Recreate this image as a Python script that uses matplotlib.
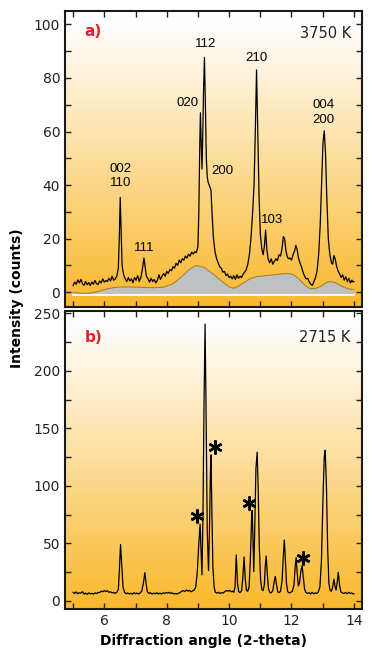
import numpy as np
import matplotlib
matplotlib.use("Agg")
import matplotlib.pyplot as plt
from matplotlib.ticker import MultipleLocator

# panel a) 3750 K, diffraction pattern
a_x = [5.00, 5.05, 5.10, 5.15, 5.20, 5.25, 5.30, 5.35, 5.40, 5.45, 5.50, 5.55, 5.60, 5.65,
       5.70, 5.75, 5.80, 5.85, 5.90, 5.95, 6.00, 6.05, 6.10, 6.15, 6.20, 6.25, 6.30, 6.35,
       6.40, 6.45, 6.48, 6.51, 6.54, 6.57, 6.62, 6.67, 6.72, 6.77, 6.82, 6.87, 6.92, 6.97,
       7.02, 7.07, 7.12, 7.17, 7.22, 7.27, 7.31, 7.35, 7.40, 7.45, 7.50, 7.55, 7.60, 7.65,
       7.70, 7.75, 7.80, 7.85, 7.90, 7.95, 8.00, 8.05, 8.10, 8.15, 8.20, 8.25, 8.30, 8.35,
       8.40, 8.45, 8.50, 8.55, 8.60, 8.65, 8.70, 8.75, 8.80, 8.85, 8.90, 8.95, 9.00, 9.03,
       9.06, 9.08, 9.10, 9.13, 9.15, 9.18, 9.21, 9.24, 9.27, 9.30, 9.33, 9.38, 9.42, 9.46,
       9.50, 9.55, 9.60, 9.65, 9.70, 9.75, 9.80, 9.85, 9.90, 9.95, 10.00, 10.05, 10.10,
       10.15, 10.20, 10.25, 10.30, 10.35, 10.40, 10.45, 10.50, 10.55, 10.60, 10.65, 10.70,
       10.75, 10.80, 10.84, 10.88, 10.92, 10.96, 11.00, 11.05, 11.09, 11.13, 11.17, 11.21,
       11.25, 11.30, 11.35, 11.40, 11.45, 11.50, 11.55, 11.60, 11.65, 11.70, 11.74, 11.78,
       11.82, 11.86, 11.90, 11.95, 12.00, 12.05, 12.10, 12.14, 12.18, 12.22, 12.27, 12.32,
       12.37, 12.42, 12.47, 12.52, 12.57, 12.62, 12.67, 12.72, 12.77, 12.82, 12.87, 12.92,
       12.97, 13.01, 13.05, 13.09, 13.13, 13.18, 13.23, 13.28, 13.32, 13.36, 13.40, 13.44,
       13.49, 13.54, 13.59, 13.64, 13.69, 13.74, 13.79, 13.84, 13.89, 13.94, 13.97, 14.00]
a_y = [2.5, 3.8, 3.0, 4.6, 3.5, 4.8, 3.2, 2.6, 4.0, 2.8, 3.6, 2.5, 3.8, 3.0,
       4.4, 3.2, 2.9, 4.2, 3.5, 5.0, 3.8, 4.4, 4.0, 5.2, 4.2, 6.0, 4.5, 5.0,
       6.0, 9.0, 20.0, 35.4, 22.0, 10.0, 6.5, 5.0, 4.0, 5.5, 4.2, 5.0, 3.6, 5.5,
       4.5, 6.2, 4.0, 5.5, 8.5, 12.8, 9.5, 6.0, 5.0, 3.8, 5.2, 4.0, 4.8, 3.5,
       4.4, 6.5, 4.8, 6.0, 7.0, 6.0, 7.8, 7.0, 8.5, 8.0, 9.5, 9.0, 10.8, 10.0,
       12.0, 11.0, 12.5, 12.0, 13.5, 12.8, 14.2, 13.5, 15.0, 14.3, 15.2, 14.8, 17.0, 30.0,
       55.0, 67.0, 58.0, 46.0, 55.0, 75.0, 87.7, 70.0, 50.0, 43.0, 41.0, 39.5, 38.0, 28.0,
       20.0, 15.0, 12.5, 11.0, 9.5, 9.0, 7.5, 7.8, 6.2, 6.8, 5.5, 6.0, 5.0,
       6.2, 4.8, 6.5, 5.2, 6.0, 5.5, 6.8, 7.5, 8.5, 10.5, 14.0, 20.0,
       29.0, 40.0, 60.0, 83.0, 60.0, 36.0, 22.0, 16.0, 14.0, 17.0, 23.2, 16.0,
       12.5, 11.0, 12.5, 10.5, 11.5, 12.5, 11.8, 14.0, 13.5, 16.5, 20.8, 20.0,
       15.5, 13.5, 12.5, 12.8, 12.0, 14.0, 15.5, 17.5, 16.0, 13.0, 11.0, 9.5,
       7.5, 6.0, 5.0, 5.2, 3.8, 3.0, 2.6, 4.0, 5.5, 8.0, 14.0, 25.0,
       42.0, 56.0, 60.3, 52.0, 36.0, 20.0, 14.0, 11.0, 10.5, 13.7, 12.5, 10.0,
       8.0, 7.0, 5.5, 6.5, 4.5, 5.8, 4.0, 5.2, 3.5, 4.5, 3.8, 4.0]

# panel a) grey background hump
bg_x = [5.0, 5.2, 5.5, 5.8, 6.1, 6.4, 6.8, 7.2, 7.6, 7.9, 8.2, 8.5, 8.7, 8.9, 9.0, 9.2,
        9.4, 9.6, 9.8, 10.0, 10.15, 10.3, 10.5, 10.7, 10.9, 11.2, 11.5, 11.7, 11.95, 12.1,
        12.25, 12.45, 12.6, 12.75, 12.9, 13.1, 13.25, 13.4, 13.6, 13.8, 14.0]
bg_y = [0.0, -0.3, -0.4, 0.3, 1.3, 1.9, 2.0, 1.8, 1.7, 1.9, 3.2, 6.0, 8.3, 9.8, 9.9, 9.3,
        7.6, 5.8, 3.8, 2.0, 1.5, 2.3, 3.8, 5.2, 5.9, 6.2, 6.6, 6.9, 7.0, 6.3,
        4.8, 2.4, 1.3, 1.4, 2.0, 3.5, 4.0, 3.6, 2.3, 1.3, 1.0]
bg_base = -1.0

# panel b) 2715 K
b_x = [5.00, 5.05, 5.10, 5.15, 5.20, 5.25, 5.30, 5.35, 5.40, 5.45, 5.50, 5.55, 5.60, 5.65,
       5.70, 5.75, 5.80, 5.85, 5.90, 5.95, 6.00, 6.05, 6.10, 6.15, 6.20, 6.25, 6.30, 6.35,
       6.40, 6.45, 6.48, 6.52, 6.56, 6.60, 6.65, 6.70, 6.75, 6.80, 6.85, 6.90, 6.95, 7.00,
       7.05, 7.10, 7.15, 7.20, 7.25, 7.30, 7.34, 7.38, 7.43, 7.48, 7.53, 7.58, 7.63, 7.68,
       7.73, 7.78, 7.83, 7.88, 7.93, 7.98, 8.03, 8.08, 8.13, 8.18, 8.23, 8.28, 8.33, 8.38,
       8.43, 8.48, 8.53, 8.58, 8.63, 8.68, 8.73, 8.78, 8.83, 8.88, 8.93, 8.98, 9.03, 9.07,
       9.10, 9.13, 9.16, 9.20, 9.23, 9.26, 9.30, 9.34, 9.37, 9.40, 9.42, 9.45, 9.48, 9.52,
       9.56, 9.61, 9.66, 9.71, 9.76, 9.81, 9.86, 9.91, 9.96, 10.01, 10.06, 10.11, 10.15,
       10.19, 10.23, 10.27, 10.31, 10.35, 10.40, 10.44, 10.48, 10.52, 10.56, 10.60, 10.64,
       10.68, 10.72, 10.74, 10.77, 10.79, 10.82, 10.86, 10.90, 10.93, 10.97, 11.01, 11.05,
       11.09, 11.13, 11.16, 11.19, 11.22, 11.26, 11.30, 11.35, 11.40, 11.44, 11.48, 11.52,
       11.56, 11.60, 11.65, 11.70, 11.74, 11.77, 11.80, 11.84, 11.88, 11.93, 11.98, 12.03,
       12.08, 12.12, 12.15, 12.18, 12.22, 12.26, 12.30, 12.34, 12.38, 12.42, 12.46, 12.51,
       12.56, 12.61, 12.66, 12.71, 12.76, 12.81, 12.86, 12.91, 12.96, 13.01, 13.05, 13.08,
       13.12, 13.16, 13.20, 13.24, 13.28, 13.32, 13.36, 13.40, 13.43, 13.46, 13.50, 13.54,
       13.58, 13.63, 13.68, 13.73, 13.78, 13.83, 13.88, 13.93, 13.98, 14.00]
b_y = [7.5, 6.5, 7.8, 6.2, 7.2, 6.8, 8.0, 6.0, 6.8, 5.8, 7.0, 6.2, 6.6, 5.9,
       7.0, 6.4, 7.4, 7.2, 8.5, 8.0, 9.0, 8.2, 8.8, 7.5, 8.0, 7.0, 7.4, 6.6,
       7.5, 10.0, 25.0, 49.0, 30.0, 12.0, 7.5, 6.2, 7.0, 6.0, 6.8, 5.8, 7.2, 6.2,
       6.8, 6.0, 7.0, 8.5, 15.0, 24.6, 15.0, 8.0, 6.5, 7.2, 6.0, 6.8, 6.2, 7.2,
       6.0, 6.8, 6.0, 7.0, 6.5, 7.4, 6.8, 7.5, 6.5, 7.0, 6.0, 6.5, 6.0, 6.8,
       7.2, 8.5, 9.0, 8.2, 9.5, 8.5, 9.2, 8.0, 8.8, 9.5, 12.0, 25.0, 50.0, 66.7,
       45.0, 22.6, 70.0, 180.0, 240.6, 170.0, 60.0, 26.4, 60.0, 110.0, 127.0, 75.0, 30.0, 12.0,
       7.5, 6.8, 7.5, 6.5, 7.2, 6.8, 8.2, 9.0, 8.5, 9.2, 8.0, 8.5, 7.5,
       12.0, 40.0, 15.0, 8.0, 7.2, 9.0, 20.0, 38.3, 18.0, 9.0, 8.5, 12.0,
       35.0, 70.0, 78.6, 50.0, 25.5, 60.0, 115.0, 129.3, 100.0, 45.0, 18.0, 10.0,
       9.0, 14.0, 30.0, 39.1, 25.0, 11.0, 7.5, 7.0, 9.0, 16.0, 21.2, 14.0,
       8.0, 7.2, 8.5, 18.0, 40.0, 53.0, 38.0, 15.0, 8.0, 7.0, 7.5, 8.5,
       14.0, 30.0, 37.7, 25.0, 13.0, 16.0, 26.0, 30.7, 20.0, 10.0, 7.5, 6.5,
       7.2, 6.0, 7.5, 6.2, 7.0, 6.5, 8.0, 12.0, 35.0, 90.0, 125.0, 131.0,
       100.0, 45.0, 15.0, 9.0, 8.5, 12.0, 18.9, 12.0, 9.5, 15.0, 25.0, 14.0,
       8.0, 7.0, 6.5, 7.4, 6.2, 7.5, 6.5, 7.0, 6.0, 6.2]

# peak labels for panel a)
a_labels = ["002\n110", "111", "020", "112", "200", "210", "103", "004\n200"]
a_label_x = [6.53, 7.27, 8.67, 9.24, 9.79, 10.88, 11.39, 13.02]
a_label_y = [43.4, 16.4, 70.8, 92.6, 45.3, 87.3, 27.0, 67.1]

# asterisks in panel b)
star_x = [8.96, 9.55, 10.65, 12.38]
star_y = [74.0, 134.0, 85.0, 37.7]

W, H = 373, 663
fig = plt.figure(figsize=(W / 100, H / 100), dpi=100)

ax_a = fig.add_axes([65 / W, 1 - 307 / H, 297 / W, 296 / H])
ax_b = fig.add_axes([65 / W, 1 - 609 / H, 297 / W, 298 / H])

# white-to-orange background gradient
orange = np.array([0.98, 0.72, 0.17])
white = np.array([1.0, 1.0, 1.0])
t = np.linspace(0, 1, 256)
t = np.clip((t - 0.03) / 0.97, 0, 1) ** 1.05
grad = white[None, :] * (1 - t[:, None]) + orange[None, :] * t[:, None]
grad = grad[:, None, :]

for ax, ylim in [(ax_a, (-5.5, 105)), (ax_b, (-7, 252))]:
    ax.set_xlim(4.74, 14.26)
    ax.set_ylim(*ylim)
    ax.imshow(grad, extent=[4.74, 14.26, ylim[0], ylim[1]], aspect="auto",
              origin="upper", zorder=0)
    ax.xaxis.set_major_locator(MultipleLocator(2))
    ax.xaxis.set_minor_locator(MultipleLocator(1))
    ax.tick_params(which="both", direction="in", top=True, right=True,
                   width=1.0, length=4.5, colors="#222222", labelsize=10)
    for s in ax.spines.values():
        s.set_linewidth(1.5)
        s.set_color("#1a1a1a")

ax_a.yaxis.set_major_locator(MultipleLocator(20))
ax_a.yaxis.set_minor_locator(MultipleLocator(10))
ax_b.yaxis.set_major_locator(MultipleLocator(50))
ax_b.yaxis.set_minor_locator(MultipleLocator(25))
ax_a.tick_params(labelbottom=False)

# panel a
ax_a.fill_between(bg_x, bg_y, bg_base, color="#c0c1c3", lw=0, zorder=1)
ax_a.plot(bg_x, bg_y, color="#9c7b3c", lw=0.7, zorder=2)
ax_a.plot([bg_x[0], bg_x[-1]], [bg_base, bg_base], color="white", lw=1.3, zorder=2)
ax_a.plot(a_x, a_y, color="black", lw=0.9, zorder=3)
for lab, lx, ly in zip(a_labels, a_label_x, a_label_y):
    ax_a.text(lx, ly, lab, ha="center", va="center", fontsize=9.5,
              family="Liberation Sans", linespacing=1.25, zorder=4)
ax_a.text(5.37, 97.5, "a)", color="#e3202b", fontsize=11, fontweight="bold",
          va="center", ha="left")
ax_a.text(13.9, 96.6, "3750 K", fontsize=10.5, va="center", ha="right", color="#222222")

# panel b
ax_b.plot(b_x, b_y, color="black", lw=0.9, zorder=3)
ax_b.plot(star_x, star_y, linestyle="none", marker=(6, 2, 0), ms=10, mew=1.8,
          color="black", zorder=4)
ax_b.text(5.37, 229, "b)", color="#e3202b", fontsize=11, fontweight="bold",
          va="center", ha="left")
ax_b.text(13.9, 229, "2715 K", fontsize=10.5, va="center", ha="right", color="#222222")

fig.text(203 / W, 1 - 641 / H, "Diffraction angle (2-theta)", ha="center", va="center",
         fontsize=10, fontweight="bold")
fig.text(17 / W, 1 - 298 / H, "Intensity (counts)", ha="center", va="center",
         rotation=90, fontsize=10, fontweight="bold")

fig.savefig("out.png", dpi=100)
